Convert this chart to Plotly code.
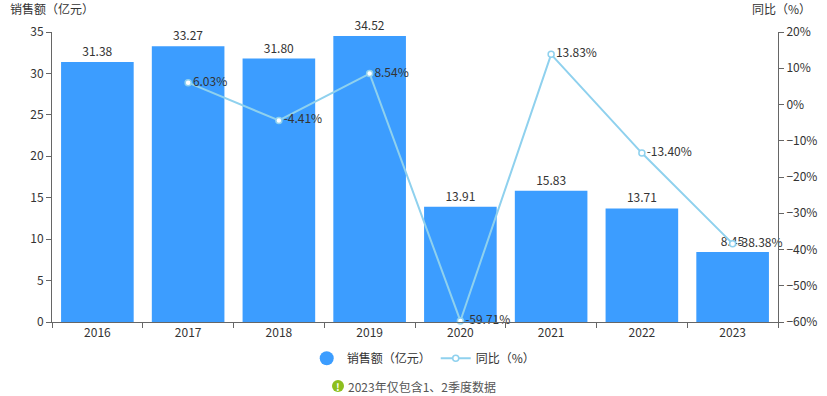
import plotly.graph_objects as go

years = ["2016", "2017", "2018", "2019", "2020", "2021", "2022", "2023"]
sales = [31.38, 33.27, 31.80, 34.52, 13.91, 15.83, 13.71, 8.45]
yoy_years = ["2017", "2018", "2019", "2020", "2021", "2022", "2023"]
yoy = [6.03, -4.41, 8.54, -59.71, 13.83, -13.40, -38.38]

BAR = "#3c9dff"
LINE = "#8fd1ee"
TXT = "#333333"
AX = "#666666"
FONT = "Noto Sans CJK SC, Microsoft YaHei, sans-serif"

fig = go.Figure()
fig.add_trace(go.Bar(
    x=years, y=sales, name="销售额（亿元）",
    marker=dict(color=BAR, line=dict(width=0)),
    text=[f"{v:.2f}" for v in sales], textposition="outside",
    textfont=dict(color=TXT, size=12), cliponaxis=False,
    showlegend=False, yaxis="y",
))
fig.add_trace(go.Scatter(
    x=years, y=[None]*len(years), mode="markers", name="销售额（亿元）",
    marker=dict(symbol="circle", size=14, color=BAR), showlegend=True,
))
fig.add_trace(go.Scatter(
    x=yoy_years, y=yoy, name="同比（%）", yaxis="y2",
    mode="lines+markers+text",
    line=dict(color=LINE, width=2),
    marker=dict(symbol="circle", size=6, color="white", line=dict(color=LINE, width=1.5)),
    text=[f"{v:.2f}%" for v in yoy], textposition="middle right",
    textfont=dict(color=TXT, size=12), cliponaxis=False,
))

fig.update_layout(
    width=827, height=396,
    margin=dict(l=52, r=49, t=32, b=74, autoexpand=False),
    plot_bgcolor="white", paper_bgcolor="white",
    font=dict(family=FONT, size=12, color=TXT),
    bargap=0.2,
    xaxis=dict(
        type="category", showline=True, linecolor=AX, linewidth=1,
        ticks="outside", tickson="boundaries", ticklen=5, tickcolor=AX,
        showgrid=False, tickfont=dict(size=12, color=TXT), automargin=False,
    ),
    yaxis=dict(
        range=[0, 35], dtick=5, showline=True, linecolor=AX, linewidth=1,
        ticks="outside", ticklen=5, tickcolor=AX, showgrid=False, zeroline=False,
        tickfont=dict(size=12, color=TXT), automargin=False,
    ),
    yaxis2=dict(
        overlaying="y", side="right", range=[-60, 20], dtick=10, ticksuffix="%",
        showline=True, linecolor=AX, linewidth=1, ticks="outside", ticklen=5,
        tickcolor=AX, showgrid=False, zeroline=False,
        tickfont=dict(size=12, color=TXT), automargin=False,
    ),
    legend=dict(
        orientation="h", x=0.512, xanchor="center", y=-0.075, yanchor="top",
        font=dict(size=12, color=TXT), itemwidth=30,
    ),
    annotations=[
        dict(text="销售额（亿元）", xref="paper", yref="paper", x=-0.06, y=1.045,
             xanchor="left", yanchor="bottom", showarrow=False,
             font=dict(size=12, color=TXT)),
        dict(text="同比（%）", xref="paper", yref="paper", x=1.048, y=1.045,
             xanchor="right", yanchor="bottom", showarrow=False,
             font=dict(size=12, color=TXT)),
        dict(text="2023年仅包含1、2季度数据", xref="paper", yref="paper",
             x=(346-52)/726, y=(322-386)/290, xanchor="left", yanchor="middle",
             showarrow=False, font=dict(size=12, color="#555555")),
        dict(text="<b>!</b>", xref="paper", yref="paper",
             x=(338-52)/726, y=(322-386)/290, xanchor="center", yanchor="middle",
             showarrow=False, font=dict(size=10, color="white")),
    ],
    shapes=[
        dict(type="circle", xref="paper", yref="paper", xsizemode="pixel", ysizemode="pixel",
             xanchor=(338-52)/726, yanchor=(322-386)/290,
             x0=-6, x1=6, y0=-6, y1=6, fillcolor="#8dbf1f", line=dict(width=0)),
    ],
)

fig.write_html("out.html", config={"displayModeBar": False},
               post_script="document.body.style.margin='0';document.body.style.overflow='hidden';")
